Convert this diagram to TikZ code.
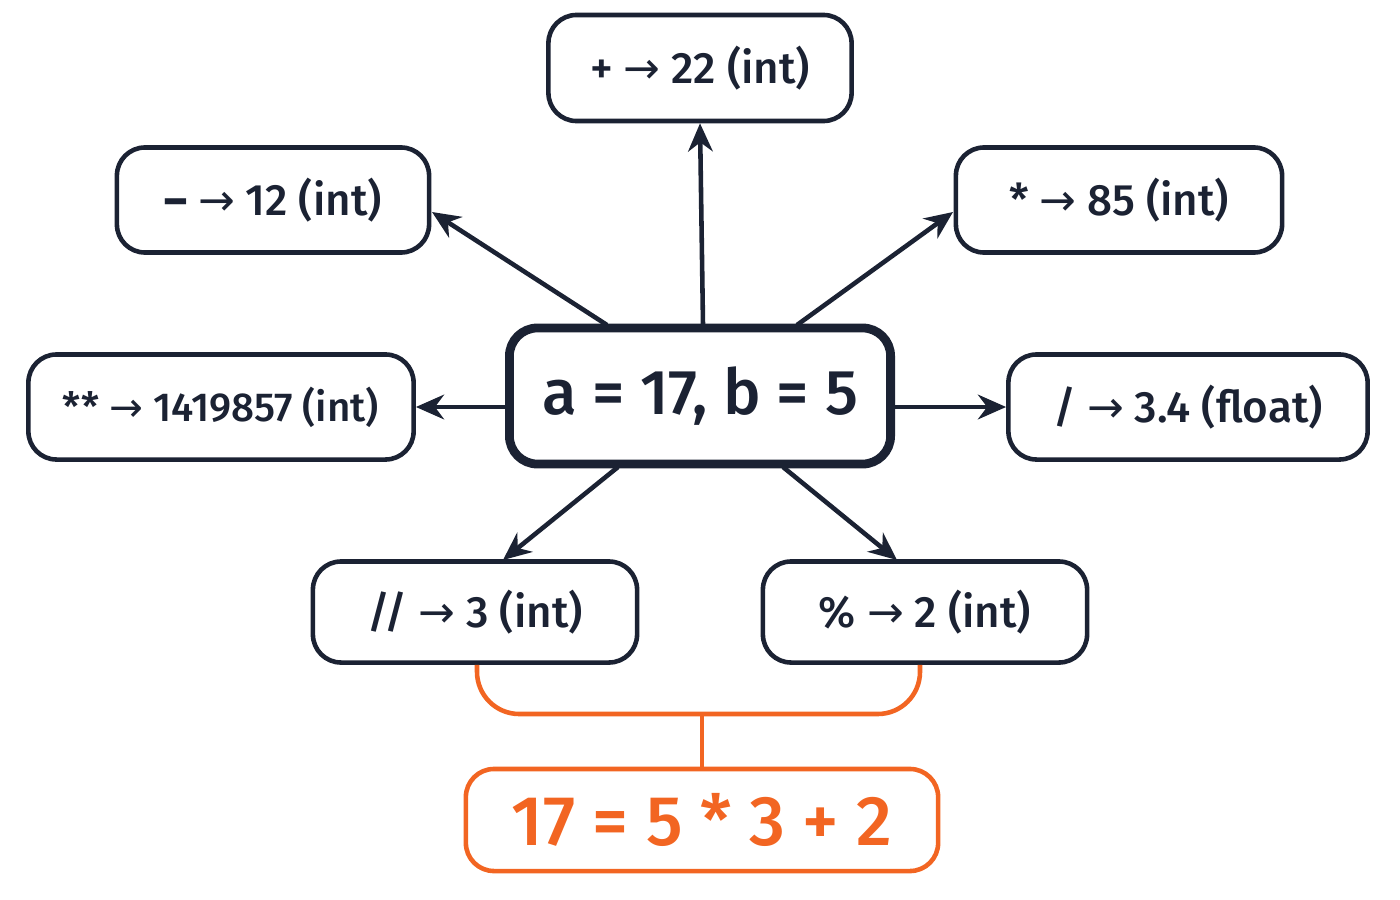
\documentclass[tikz,border=0pt]{standalone}
\usepackage{fontspec}
\setmainfont{Fira Sans}[UprightFont=* Medium]
\newfontfamily\arr{DejaVu Sans}
\usetikzlibrary{arrows.meta}
\definecolor{navy}{HTML}{1B2233}
\definecolor{org}{HTML}{F26522}
\newcommand{\ra}{{\arr\char"2192}}
\begin{document}
\begin{tikzpicture}[x=0.01cm,y=-0.01cm,
  box/.style={draw=navy,line width=1.3pt,rounded corners=8pt,text=navy,font=\fontsize{12.5}{15}\selectfont,inner sep=0pt},
  arw/.style={draw=navy,line width=1.3pt,-{Stealth[length=8pt,width=7pt]}}]
\useasboundingbox (0,0) rectangle (1400,900);
\node[box,minimum width=3.03cm,minimum height=1.06cm] (plus) at (700,68) {+ \ra\ 22 (int)};
\node[box,minimum width=3.12cm,minimum height=1.05cm] (minus) at (273,200) {\textbf{–} \ra\ 12 (int)};
\node[box,minimum width=3.26cm,minimum height=1.05cm] (mult) at (1119,200) {* \ra\ 85 (int)};
\node[box,minimum width=3.85cm,minimum height=1.05cm,font=\fontsize{11.5}{14}\selectfont] (pow) at (221,407) {** \ra\ 1419857 (int)};
\node[box,line width=2.5pt,minimum width=3.81cm,minimum height=1.36cm,font=\fontsize{18}{22}\selectfont] (c) at (700,396) {a = 17, b = 5};
\node[box,minimum width=3.59cm,minimum height=1.05cm] (div) at (1188,407) {/ \ra\ 3.4 (float)};
\node[box,minimum width=3.24cm,minimum height=1.01cm] (fd) at (475,612) {// \ra\ 3 (int)};
\node[box,minimum width=3.24cm,minimum height=1.01cm] (mod) at (925,612) {\% \ra\ 2 (int)};
\node[box,draw=org,text=org,minimum width=4.72cm,minimum height=1.02cm,font=\fontsize{20}{24}\selectfont] (eq) at (702,820) {17 = 5 * 3 + 2};
\draw[arw] (703,325) -- (plus.south);
\draw[arw] (607,325) -- (432,212);
\draw[arw] (797,325) -- (953,212);
\draw[arw] (c.west |- pow.east) -- (pow.east);
\draw[arw] (c.east |- div.west) -- (div.west);
\draw[arw] (618,467) -- (503,560);
\draw[arw] (783,467) -- (897,560);
\coordinate (j) at (702,714);
\draw[org,line width=1.3pt,rounded corners=12pt] (fd.south -| 477,0) -- (477,714) -- (920,714) -- (fd.south -| 920,0);
\draw[org,line width=1.3pt] (j) -- (eq.north);
\end{tikzpicture}
\end{document}
